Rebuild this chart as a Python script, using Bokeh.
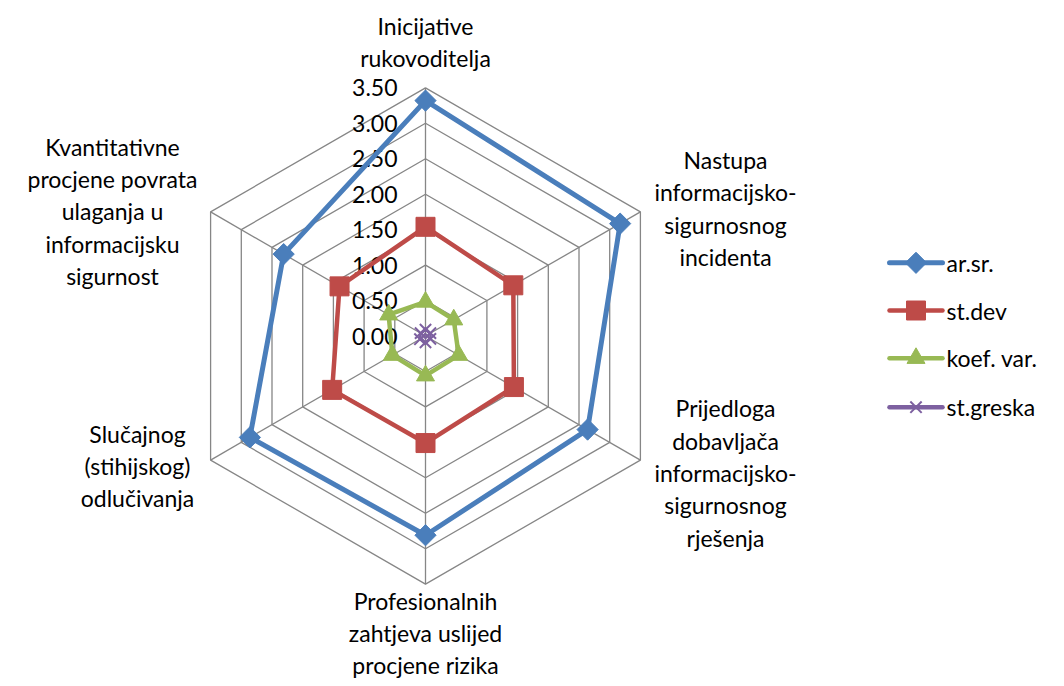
import numpy as np
from bokeh.plotting import figure
from bokeh.models import Range1d
from bokeh.core.properties import value
from bokeh.embed import file_html
from bokeh.resources import INLINE

# ---------------- data ----------------
categories = [
    "Inicijative\nrukovoditelja",
    "Nastupa\ninformacijsko-\nsigurnosnog\nincidenta",
    "Prijedloga\ndobavljača\ninformacijsko-\nsigurnosnog\nrješenja",
    "Profesionalnih\nzahtjeva uslijed\nprocjene rizika",
    "Slučajnog\n(stihijskog)\nodlučivanja",
    "Kvantitativne\nprocjene povrata\nulaganja u\ninformacijsku\nsigurnost",
]
series_names = ["ar.sr.", "st.dev", "koef. var.", "st.greska"]
ar_sr = [3.32, 3.17, 2.64, 2.81, 2.86, 2.31]
st_dev = [1.54, 1.43, 1.44, 1.51, 1.52, 1.40]
koef_var = [0.48, 0.46, 0.54, 0.56, 0.54, 0.60]
st_greska = [0.09, 0.08, 0.08, 0.09, 0.09, 0.08]
tick_values = [0.0, 0.5, 1.0, 1.5, 2.0, 2.5, 3.0, 3.5]
tick_labels = ["0.00", "0.50", "1.00", "1.50", "2.00", "2.50", "3.00", "3.50"]

# ---------------- layout ----------------
W, H = 1048, 678
S = 70.9                 # pixels per unit
CX, CY = 425.0, 335.5    # centre in figure pixels (from top-left)
FONT = value("Lato")
FS = "23px"
LH = 1.16

p = figure(width=W, height=H, output_backend="svg", toolbar_location=None,
           x_range=Range1d(-CX / S, (W - CX) / S),
           y_range=Range1d(-(H - CY) / S, CY / S),
           x_axis_location=None, y_axis_location=None,
           min_border=0, min_border_left=0, min_border_right=0,
           min_border_top=0, min_border_bottom=0)
p.grid.visible = False
p.outline_line_color = None
p.background_fill_color = "white"
p.border_fill_color = "white"

n = len(categories)
ang = np.deg2rad(90 - 60 * np.arange(n))
cosA, sinA = np.cos(ang), np.sin(ang)

GRID = "#868686"
rmax = tick_values[-1]
# rings
for t in tick_values[1:]:
    xs = list(t * cosA) + [t * cosA[0]]
    ys = list(t * sinA) + [t * sinA[0]]
    p.line(xs, ys, line_color=GRID, line_width=1.3)
# spokes
p.multi_line([[0, rmax * c] for c in cosA], [[0, rmax * s] for s in sinA],
             line_color=GRID, line_width=1.3)

# tick labels (right aligned, left of top spoke)
p.text(x=[-28 / S] * len(tick_values), y=tick_values, text=tick_labels,
       text_font=FONT, text_font_size=FS, text_color="black",
       text_align="right", text_baseline="middle")

# category labels (pixel offsets from centre, y downward)
label_off = [(0, -294), (300, -127.5), (300, 137), (0, 297), (-288, 130), (-313, -124.5)]
p.text(x=[dx / S for dx, dy in label_off], y=[-dy / S for dx, dy in label_off],
       text=categories, text_font=FONT, text_font_size=FS, text_color="black",
       text_align="center", text_baseline="middle", text_line_height=LH)

colors = ["#4A7EBB", "#BE4B48", "#98B954", "#7D60A0"]
all_series = [ar_sr, st_dev, koef_var, st_greska]
markers = ["square", "square", "triangle", "x"]
angles_m = [np.pi / 4, 0, 0, 0]
sizes = [15, 19, 18, 16]
lwidths = [5, 4.5, 4.5, 2.5]

for vals, col, mk, am, sz, lw in zip(all_series, colors, markers, angles_m, sizes, lwidths):
    v = np.array(vals)
    xs = v * cosA
    ys = v * sinA
    p.line(list(xs) + [xs[0]], list(ys) + [ys[0]], line_color=col, line_width=lw,
           line_join="round")
    if mk == "x":
        p.scatter(xs, ys, marker=mk, size=sz, line_color=col, line_width=2)
    else:
        p.scatter(xs, ys, marker=mk, size=sz, angle=am, fill_color=col, line_color=col)

# legend (drawn manually, positions in picture pixels)
def px(xr):
    return (xr - CX) / S

def py(yr):
    return (CY - yr) / S

LX = 889  # legend left edge
leg_y = [262.3, 310.0, 357.7, 406.7]
for name, col, mk, am, sz, lw, ly in zip(series_names, colors, markers, angles_m, sizes, lwidths, leg_y):
    p.line([px(LX), px(LX + 53)], [py(ly), py(ly)], line_color=col, line_width=max(lw, 4.5),
           line_cap="round")
    if mk == "x":
        p.scatter([px(LX + 26.5)], [py(ly)], marker=mk, size=sz, line_color=col, line_width=2)
    else:
        p.scatter([px(LX + 26.5)], [py(ly)], marker=mk, size=sz, angle=am,
                  fill_color=col, line_color=col)
    p.text(x=[px(LX + 57)], y=[py(ly)], text=[name], text_font=FONT, text_font_size=FS,
           text_color="black", text_align="left", text_baseline="middle")

open("out.html", "w").write(file_html(p, INLINE))
